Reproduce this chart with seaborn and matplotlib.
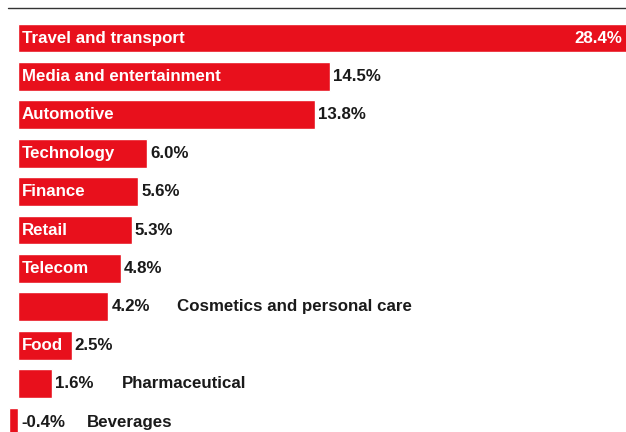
import matplotlib
matplotlib.use("Agg")
import matplotlib.pyplot as plt
import seaborn as sns
import pandas as pd
from matplotlib.lines import Line2D

categories = ["Travel and transport", "Media and entertainment", "Automotive", "Technology",
              "Finance", "Retail", "Telecom", "Cosmetics and personal care", "Food",
              "Pharmaceutical", "Beverages"]
values = [28.4, 14.5, 13.8, 6.0, 5.6, 5.3, 4.8, 4.2, 2.5, 1.6, -0.4]
label_inside = [True, True, True, True, True, True, True, False, True, False, False]

df = pd.DataFrame({"category": categories, "value": values})

sns.set_theme(style="white")
plt.rcParams["font.family"] = ["Liberation Sans", "DejaVu Sans"]

fig = plt.figure(figsize=(6.26, 4.32), dpi=100)
ax = fig.add_axes([0, 0, 1, 1])
red = "#E8101C"
sns.barplot(data=df, y="category", x="value", orient="h", color=red, width=0.75,
            saturation=1, ax=ax)

xmin, xmax = -0.837, 28.28
ax.set_xlim(xmin, xmax)
ax.set_ylim(10.26, -0.99)
ax.axis("off")

fs = 12.2
for i, (c, v, inside) in enumerate(zip(categories, values, label_inside)):
    if i == 0:
        ax.annotate(c, (0, i), xytext=(4, 0), textcoords="offset pixels",
                    ha="left", va="center", color="white", fontsize=fs, fontweight="bold")
        ax.annotate(f"{v:.1f}%", (xmax, i), xytext=(-4, 0), textcoords="offset pixels",
                    ha="right", va="center", color="white", fontsize=fs, fontweight="bold")
        continue
    end = max(v, 0)
    ax.annotate(f"{v:.1f}%", (end, i), xytext=(3, 0), textcoords="offset pixels",
                ha="left", va="center", color="#1a1a1a", fontsize=fs, fontweight="bold")
    if inside:
        ax.annotate(c, (0, i), xytext=(4, 0), textcoords="offset pixels",
                    ha="left", va="center", color="white", fontsize=fs, fontweight="bold")
    else:
        ax.annotate(c, (end, i), xytext=(69, 0), textcoords="offset pixels",
                    ha="left", va="center", color="#1a1a1a", fontsize=fs, fontweight="bold")

fig.add_artist(Line2D([8 / 626, 1], [1 - 8 / 432, 1 - 8 / 432], color="#333333", lw=1))

fig.savefig("out.png", dpi=100)
